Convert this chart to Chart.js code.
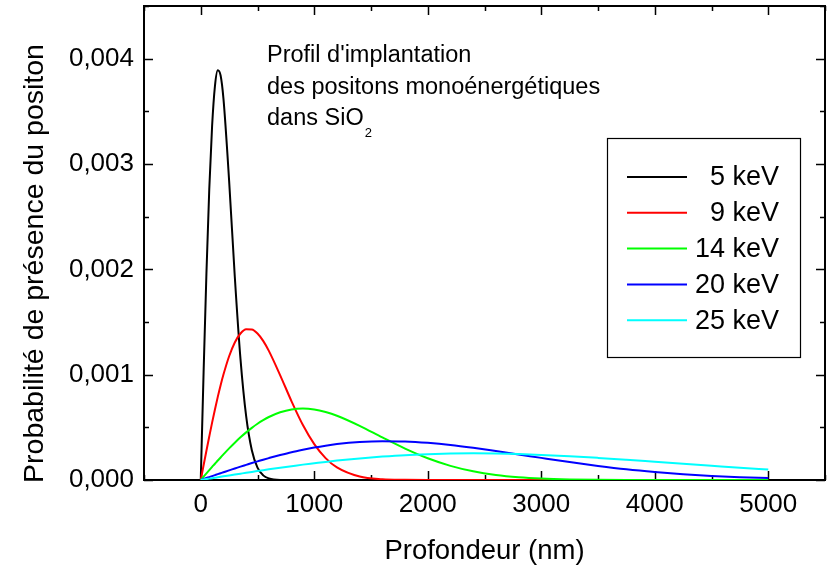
<!DOCTYPE html>
<html>
<head>
<meta charset="utf-8">
<script src="https://cdn.jsdelivr.net/npm/chart.js@4.4.1/dist/chart.umd.min.js"></script>
<style>
  html, body { margin: 0; padding: 0; background: #ffffff; }
  #wrap { width: 832px; height: 568px; }
</style>
</head>
<body>
<div id="wrap"><canvas id="profileChart" width="832" height="568"></canvas></div>
<script>
// depth (nm) shared by all curves
const depths = [0, 25, 50, 75, 100, 125, 150, 175, 200, 250, 300, 350, 400, 450, 500, 550, 600, 700, 800, 900,
  1000, 1100, 1200, 1400, 1600, 1800, 2000, 2200, 2400, 2600, 2800, 3000, 3250, 3500, 3750, 4000, 4250, 4500, 4750, 5000];

const energies = ["5 keV", "9 keV", "14 keV", "20 keV", "25 keV"];
const lineColors = ["#000000", "#ff0000", "#00ff00", "#0000ff", "#00ffff"];

const p5keV = [0, 0.00102, 0.00196, 0.00276, 0.00336, 0.00374, 0.00389, 0.00384, 0.00362, 0.00284,
  0.00193, 0.00115, 0.000606, 0.000283, 0.000118, 0.000044, 0.000015, 0.000001, 0, 0,
  0, 0, 0, 0, 0, 0, 0, 0, 0, 0, 0, 0, 0, 0, 0, 0, 0, 0, 0, 0];
const p9keV = [0, 0.000140, 0.000278, 0.000413, 0.000545, 0.000670, 0.000789, 0.000900, 0.001001, 0.001175,
  0.001306, 0.001391, 0.001431, 0.001429, 0.001391, 0.001321, 0.001226, 0.000994, 0.000747, 0.000522,
  0.000341, 0.000208, 0.000119, 0.0000324, 0.0000069, 0.0000012, 0, 0, 0, 0, 0, 0, 0, 0, 0, 0, 0, 0, 0, 0];
const p14keV = [0, 0.0000312, 0.0000623, 0.0000933, 0.000124, 0.000154, 0.000185, 0.000214, 0.000243, 0.000300,
  0.000354, 0.000405, 0.000452, 0.000495, 0.000534, 0.000568, 0.000598, 0.000643, 0.000670, 0.000678,
  0.000669, 0.000645, 0.000610, 0.000514, 0.000404, 0.000298, 0.000206, 0.000134, 0.0000823, 0.0000478,
  0.0000263, 0.0000136, 0.0000056, 0.0000021, 0.0000007, 0, 0, 0, 0, 0];
const p20keV = [0, 0.0000093, 0.0000185, 0.0000278, 0.0000370, 0.0000462, 0.0000554, 0.0000645, 0.0000736, 0.0000917,
  0.000109, 0.000127, 0.000144, 0.000161, 0.000177, 0.000193, 0.000208, 0.000237, 0.000264, 0.000287,
  0.000308, 0.000326, 0.000341, 0.000361, 0.000369, 0.000366, 0.000353, 0.000333, 0.000306, 0.000275,
  0.000243, 0.000210, 0.000170, 0.000134, 0.000102, 0.0000763, 0.0000553, 0.0000390, 0.0000268, 0.0000180];
const p25keV = [0, 0.0000043, 0.0000087, 0.0000130, 0.0000173, 0.0000217, 0.0000260, 0.0000303, 0.0000346, 0.0000432,
  0.0000517, 0.0000601, 0.0000685, 0.0000768, 0.0000849, 0.0000930, 0.000101, 0.000116, 0.000131, 0.000146,
  0.000159, 0.000172, 0.000184, 0.000205, 0.000222, 0.000236, 0.000245, 0.000251, 0.000253, 0.000251,
  0.000246, 0.000238, 0.000226, 0.000210, 0.000192, 0.000173, 0.000154, 0.000135, 0.000116, 0.0000991];

const xTickLabels = [0, 1000, 2000, 3000, 4000, 5000];
const yTickLabels = [0, 0.001, 0.002, 0.003, 0.004];

const yTitle = "Probabilité de présence du positon";
const annotationLines = ["Profil d'implantation", "des positons monoénergétiques", "dans SiO"];

const FONT = "'Liberation Sans', Arial, Helvetica, sans-serif";

function toPoints(values) {
  return depths.map((d, i) => ({ x: d, y: values[i] }));
}

function isLabelled(value, list) {
  return list.some((v) => Math.abs(v - value) < 1e-9);
}

const series = [p5keV, p9keV, p14keV, p20keV, p25keV];

// inside ticks on all four sides + frame
const framePlugin = {
  id: "frame",
  beforeDatasetsDraw(chart) {
    const { ctx, chartArea: a, scales } = chart;
    ctx.save();
    ctx.strokeStyle = "#000";
    ctx.lineWidth = 1.5;
    scales.x.ticks.forEach((t) => {
      const px = Math.round(scales.x.getPixelForValue(t.value)) + 0.5;
      const len = t.value % 1000 === 0 ? 9 : 5;
      ctx.beginPath();
      ctx.moveTo(px, a.bottom);
      ctx.lineTo(px, a.bottom - len);
      ctx.moveTo(px, a.top);
      ctx.lineTo(px, a.top + len);
      ctx.stroke();
    });
    scales.y.ticks.forEach((t) => {
      const py = Math.round(scales.y.getPixelForValue(t.value)) + 0.5;
      const len = isLabelled(t.value, yTickLabels) ? 9 : 5;
      ctx.beginPath();
      ctx.moveTo(a.left, py);
      ctx.lineTo(a.left + len, py);
      ctx.moveTo(a.right, py);
      ctx.lineTo(a.right - len, py);
      ctx.stroke();
    });
    ctx.lineWidth = 2;
    ctx.strokeRect(a.left, a.top, a.right - a.left, a.bottom - a.top);
    ctx.restore();
  },
  afterDraw(chart) {
    const ctx = chart.ctx;
    ctx.save();
    // y axis title (sits a bit below the plot centre in the original)
    ctx.save();
    ctx.translate(43, 263.5);
    ctx.rotate(-Math.PI / 2);
    ctx.font = "28.5px " + FONT;
    ctx.fillStyle = "#000";
    ctx.textAlign = "center";
    ctx.textBaseline = "alphabetic";
    ctx.fillText(yTitle, 0, 0);
    ctx.restore();
    // legend box
    ctx.strokeStyle = "#000";
    ctx.lineWidth = 1.2;
    ctx.strokeRect(607.5, 138.5, 193, 219);
    ctx.font = "27px " + FONT;
    ctx.textAlign = "right";
    ctx.textBaseline = "middle";
    chart.data.datasets.forEach((ds, i) => {
      const y = 177 + i * 35.8;
      ctx.strokeStyle = ds.borderColor;
      ctx.lineWidth = 2;
      ctx.beginPath();
      ctx.moveTo(627, y);
      ctx.lineTo(687, y);
      ctx.stroke();
      ctx.fillStyle = "#000";
      ctx.fillText(ds.label, 779, y + 1);
    });
    // annotation
    ctx.textAlign = "left";
    ctx.textBaseline = "alphabetic";
    ctx.font = "23.5px " + FONT;
    annotationLines.forEach((line, i) => {
      ctx.fillText(line, 267, 62 + i * 31.7);
    });
    const w = ctx.measureText(annotationLines[2]).width;
    ctx.font = "13px " + FONT;
    ctx.fillText("2", 267 + w + 1, 137);
    ctx.restore();
  },
};

const profileEl = document.getElementById("profileChart");
if (profileEl) {
  const profileCtx = profileEl.getContext("2d");
  const profileChart = new Chart(profileCtx, {
    type: "line",
    data: {
      datasets: series.map((values, i) => ({
        label: energies[i],
        data: toPoints(values),
        borderColor: lineColors[i],
        backgroundColor: lineColors[i],
        borderWidth: 2,
        pointRadius: 0,
        fill: false,
        cubicInterpolationMode: "monotone",
        order: series.length - i,
      })),
    },
    options: {
      responsive: false,
      animation: false,
      layout: { padding: { top: 6, right: 7, left: 0, bottom: 0 } },
      plugins: { legend: { display: false }, tooltip: { enabled: false } },
      scales: {
        x: {
          type: "linear",
          min: -500,
          max: 5500,
          grid: { display: false, drawTicks: false },
          border: { display: false },
          ticks: {
            stepSize: 500,
            autoSkip: false,
            maxRotation: 0,
            padding: 9,
            color: "#000",
            font: { family: FONT, size: 26 },
            callback: (v) => (isLabelled(v, xTickLabels) ? String(v) : ""),
          },
          title: {
            display: true,
            text: "Profondeur (nm)",
            color: "#000",
            font: { family: FONT, size: 27.5 },
            padding: { top: 0, bottom: 0 },
          },
          afterFit: (scale) => {
            scale.height = 88;
            scale.paddingLeft = 0;
            scale.paddingRight = 0;
          },
        },
        y: {
          min: 0,
          max: 0.0045,
          grid: { display: false, drawTicks: false },
          border: { display: false },
          ticks: {
            stepSize: 0.0005,
            autoSkip: false,
            padding: 10,
            color: "#000",
            font: { family: FONT, size: 26 },
            callback: (v) => (isLabelled(v, yTickLabels) ? v.toFixed(3).replace(".", ",") : ""),
          },
          afterFit: (scale) => {
            scale.width = 144;
            scale.paddingTop = 0;
            scale.paddingBottom = 0;
          },
        },
      },
    },
    plugins: [framePlugin],
  });
}
</script>
</body>
</html>
